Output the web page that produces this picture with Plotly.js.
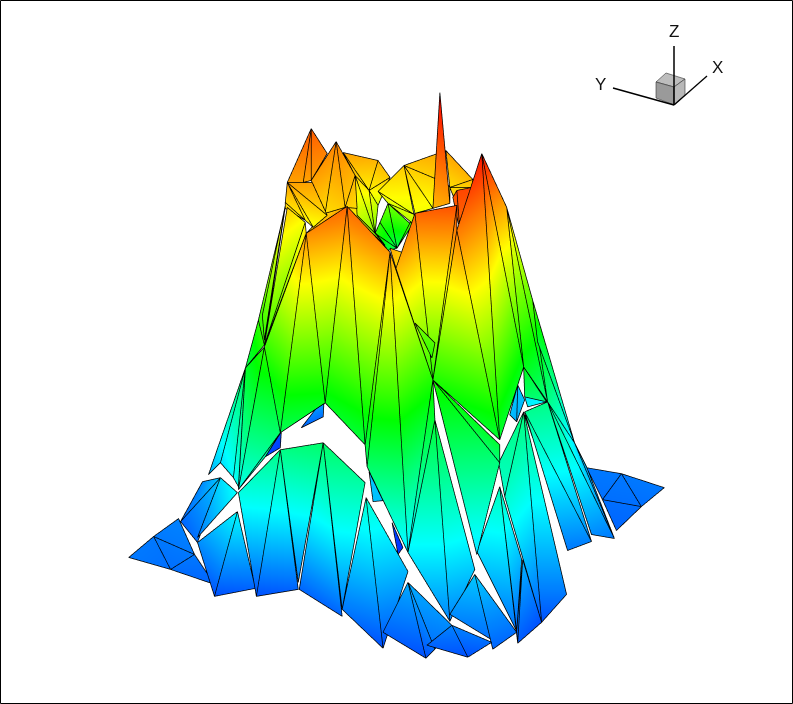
<!DOCTYPE html>
<html><head><meta charset="utf-8">
<script src="https://cdn.plot.ly/plotly-3.0.1.min.js"></script>
<style>html,body{margin:0;padding:0;background:#fff}#p{width:793px;height:704px}</style></head>
<body><div id="p"></div>
<script>
// Each facet: x,h,level for its three corners. Listed back to front.
const farTiles=[
[587,468,.12,622,474,.12,603,500,.11],[622,474,.12,665,488,.12,642,507,.11],[622,474,.12,642,507,.11,603,500,.11],[603,500,.11,642,507,.11,617,531,.1],
[128,558,.12,153,537,.12,170,570,.11],[153,537,.12,178,519,.13,194,555,.12],[153,537,.12,194,555,.12,170,570,.11],[170,570,.11,194,555,.12,214,585,.1]];
const innerPatches=[
[324,398,.18,323,417,.11,301,428,.1],[281,432,.08,265,457,.07,280,448,.06],
[518,385,.2,510,415,.19,517,422,.17],[518,385,.2,517,422,.17,525,400,.19],[525,397,.23,547,402,.25,528,407,.24],[525,415,.13,533,438,.11,528,420,.12],
[392,523,.07,403,548,.05,398,555,.05],[369,472,.2,373,502,.19,383,501,.19],
[388,203,.62,380,222,.55,397,248,.42],[388,203,.62,397,248,.42,412,225,.55],
[375,233,.55,380,222,.55,397,248,.42],[375,233,.55,397,248,.42,388,250,.45],[412,225,.55,415,213,.7,397,248,.42],
[390,248,.83,402,252,.8,396,268,.8],[325,213,.78,347,206,.85,306,233,.8],[345,207,.8,357,208,.78,385,245,.58],[357,208,.78,375,233,.62,385,245,.58]];
const crownLeft=[
[343,152,.84,378,160,.82,369,190,.76],[378,160,.82,390,177,.8,369,190,.76],[343,152,.84,369,190,.76,355,175,.8],[369,190,.76,390,177,.8,378,205,.7],
[355,175,.8,369,190,.76,375,233,.62],[355,175,.8,375,233,.62,357,215,.7],[369,190,.76,378,205,.68,375,233,.62],
[311,128,.91,327,153,.87,311,180,.84],[311,128,.91,303,182,.84,287,182,.84],[311,128,.91,311,180,.84,303,182,.84],
[336,141,.87,311,180,.84,325,213,.78],[336,141,.87,325,213,.78,345,207,.8],[336,141,.87,355,175,.82,345,207,.8],[355,175,.82,345,207,.8,357,208,.78],
[287,182,.84,312,182,.84,327,215,.78],[287,182,.84,327,215,.78,313,227,.74],[287,182,.84,313,227,.74,305,220,.76],[287,182,.84,305,220,.76,285,202,.79],[285,202,.79,305,220,.76,285,208,.79]];
const crownRight=[
[472,187,.8,450,187,.78,457,205,.82],
[404,165,.8,446,150,.84,435,178,.79],[446,150,.84,473,179,.82,450,187,.78],[404,165,.8,435,178,.79,433,208,.74],[404,165,.8,433,208,.74,415,213,.74],
[378,191,.76,414,214,.72,388,203,.7],[388,203,.7,414,214,.72,415,225,.67],[378,191,.76,404,165,.8,414,214,.72],
[473,179,.82,450,187,.78,472,187,.8],[444,178,.8,450,187,.78,450,203,.8],
[440,92,1,433,208,.82,450,203,.84],
[457,190,.93,472,187,.93,460,230,.89],[453,197,.91,457,190,.93,460,230,.89],
[487,180,.89,502,208,.81,493,215,.79],[507,207,.84,493,215,.79,510,240,.75]];
const backSides=[
[285,207,.78,258,320,.55,264,345,.55],[258,320,.55,245,368,.42,264,345,.55],[285,205,.78,262,315,.57,264,340,.55],
[245,368,.42,208,475,.17,220,463,.22],[245,368,.42,220,463,.22,264,350,.47],[245,368,.42,220,463,.22,233,478,.25],[245,368,.42,233,478,.25,238,487,.27],
[287,207,.8,305,222,.74,264,345,.55],[305,222,.74,306,233,.8,264,345,.55],
[264,347,.55,280,433,.4,238,490,.27],[264,347,.55,238,490,.27,245,368,.46],[280,433,.4,265,457,.33,238,490,.27],
[507,207,.8,524,367,.48,548,402,.37],[524,367,.48,525,397,.4,547,402,.37],[507,207,.8,548,402,.37,533,300,.58],[533,300,.58,575,443,.22,548,402,.37],[533,300,.58,538,342,.45,575,443,.22],
[548,402,.37,575,443,.22,615,539,.11],[575,443,.22,587,467,.16,615,539,.11]];
const leftSkirt=[
[202,482,.14,220,478,.2,180,522,.1],[220,478,.2,197,543,.11,180,522,.1],[220,478,.22,237,493,.26,197,538,.12],
[197,543,.14,237,512,.25,214,597,.08],[237,512,.25,255,589,.1,214,597,.08],
[238,493,.28,280,450,.37,256,597,.08],[280,450,.37,298,590,.1,256,597,.08],[280,450,.37,323,443,.4,298,583,.12],
[323,443,.4,342,617,.1,299,590,.1],[323,443,.4,365,483,.34,342,610,.12],[366,498,.3,342,610,.12,383,649,.08],[366,498,.3,383,649,.08,408,572,.18]];
const rightSkirt=[
[525,412,.36,568,551,.12,592,542,.13],[525,412,.36,592,542,.13,548,402,.37],[548,402,.37,592,535,.14,615,539,.12],
[524,412,.38,499,463,.33,505,497,.3],[524,412,.38,505,497,.3,542,623,.08],[524,412,.38,542,623,.08,567,595,.12],
[523,560,.18,517,632,.1,518,644,.09],[523,560,.18,518,644,.09,542,623,.08],[500,487,.32,522,560,.18,517,632,.1],
[500,487,.32,477,552,.22,517,632,.11],[500,487,.32,517,632,.11,518,644,.09]];
const bigFaces=[
[306,233,.86,264,347,.55,280,433,.42],
[306,233,.86,280,433,.42,325,403,.48],[306,233,.86,347,206,.9,325,403,.48],[347,206,.9,325,403,.48,365,445,.44],[347,206,.9,390,252,.85,365,445,.44],
[390,252,.85,367,467,.4,408,553,.23],[390,252,.85,365,445,.44,367,467,.4],[390,252,.85,408,553,.23,433,380,.53],
[396,268,.82,415,213,.9,433,380,.53],[415,213,.9,457,205,.92,433,380,.53],[457,205,.92,457,230,.88,433,380,.53],
[415,323,.62,435,343,.58,432,358,.54],
[457,230,.88,433,380,.53,500,440,.45],[457,230,.88,482,153,.98,500,440,.45],[482,153,.98,507,207,.83,524,367,.48],[482,153,.98,524,367,.48,500,440,.45],
[433,380,.53,500,445,.45,500,463,.38],[433,380,.53,500,463,.38,477,555,.22],
[433,380,.53,435,420,.45,408,553,.24],[435,420,.45,408,553,.24,450,622,.13],[435,420,.45,450,622,.13,475,570,.2]];
const frontFoot=[
[383,633,.1,408,583,.17,426,659,.08],[408,583,.17,435,650,.11,426,659,.08],[408,583,.17,452,626,.14,435,650,.11],
[475,575,.2,450,615,.14,491,640,.11],[475,575,.2,491,640,.11,493,650,.1],[475,575,.2,493,650,.1,517,633,.11],
[427,646,.1,452,626,.13,468,658,.08],[452,626,.13,492,643,.11,468,658,.08]];
const axisLabels=[['Z',674,31],['Y',600,84],['X',717,68]];

const W=793,H=704;
const groups=[farTiles,innerPatches,crownLeft,crownRight,backSides,leftSkirt,rightSkirt,bigFaces,frontFoot];
const X=[],Y=[],Z=[],L=[],I=[],J=[],K=[],lx=[],ly=[],lz=[];
let n=0;
groups.forEach(g=>g.forEach(t=>{
  const b=X.length,d=-n;
  for(let c=0;c<3;c++){X.push(t[c*3]);Y.push(d);Z.push(H-t[c*3+1]);L.push(t[c*3+2]);}
  I.push(b);J.push(b+1);K.push(b+2);
  [0,1,2,0].forEach(c=>{lx.push(t[c*3]);ly.push(d-.4);lz.push(H-t[c*3+1]);});
  lx.push(null);ly.push(null);lz.push(null);
  n++;
}));
const rainbow=[[0,'rgb(0,0,255)'],[.25,'rgb(0,255,255)'],[.5,'rgb(0,255,0)'],[.75,'rgb(255,255,0)'],[1,'rgb(255,0,0)']];
const traces=[
 {type:'mesh3d',x:X,y:Y,z:Z,i:I,j:J,k:K,intensity:L,intensitymode:'vertex',colorscale:rainbow,cmin:0,cmax:1,showscale:false,hoverinfo:'skip',
  flatshading:true,lighting:{ambient:1,diffuse:0,specular:0,roughness:1,fresnel:0}},
 {type:'scatter3d',mode:'lines',x:lx,y:ly,z:lz,line:{color:'#000',width:1.5},hoverinfo:'skip',showlegend:false}
];
const ax={visible:false,showgrid:false,zeroline:false,showbackground:false,showspikes:false};
const poly=p=>'M'+p.map(q=>(q[0]/W)+','+(1-q[1]/H)).join('L')+'Z';
const seg=(a,b,w)=>({type:'line',xref:'paper',yref:'paper',x0:a[0]/W,y0:1-a[1]/H,x1:b[0]/W,y1:1-b[1]/H,line:{color:'#000',width:w}});
const face=(p,c)=>({type:'path',xref:'paper',yref:'paper',path:poly(p),fillcolor:c,line:{color:'#333',width:.6}});
const zoom=2.247;
const layout={width:W,height:H,margin:{l:0,r:0,t:0,b:0},paper_bgcolor:'#fff',showlegend:false,
 scene:{domain:{x:[0,1],y:[0,1]},aspectmode:'manual',aspectratio:{x:zoom,y:.5,z:zoom*H/W},
  xaxis:{...ax,range:[0,W]},yaxis:{...ax,range:[-n-2,2]},zaxis:{...ax,range:[0,H]},
  camera:{projection:{type:'orthographic'},eye:{x:0,y:-2,z:0},up:{x:0,y:0,z:1},center:{x:0,y:0,z:0}}},
 shapes:[
  {type:'rect',xref:'paper',yref:'paper',x0:.5/W,y0:.5/H,x1:1-.5/W,y1:1-.5/H,line:{color:'#000',width:1}},
  face([[656,82],[666,73],[685,79],[674,87]],'#bdbdbd'),
  face([[656,82],[674,87],[674,105],[656,98]],'#9a9a9a'),
  face([[674,87],[685,79],[685,95],[674,105]],'#b8b8b8'),
  seg([674,46],[674,105],1.5),seg([613,88],[674,105],1.5),seg([707,76],[674,105],1.3)
 ],
 annotations:axisLabels.map(a=>({xref:'paper',yref:'paper',x:a[1]/W,y:1-a[2]/H,text:a[0],showarrow:false,xanchor:'center',yanchor:'middle',font:{family:'Liberation Sans',size:17,color:'#111'}}))
};
Plotly.newPlot('p',traces,layout,{displayModeBar:false});
</script></body></html>
